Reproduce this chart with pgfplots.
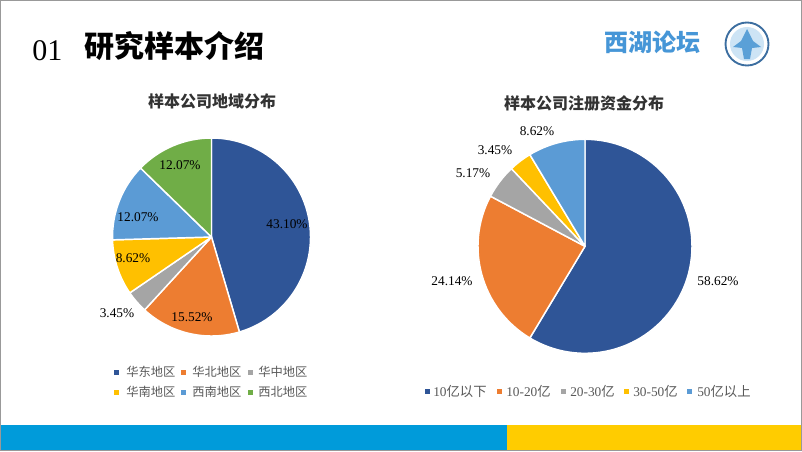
\documentclass[border=0pt]{standalone}
\usepackage{pgfplots}
\pgfplotsset{compat=1.18}
\usepackage{pgfplotstable}
\usepackage{fontspec}
\setmainfont{Liberation Serif}
\newfontfamily\cjk{Noto Sans CJK SC}

\definecolor{cA}{HTML}{2F5597}
\definecolor{cB}{HTML}{ED7D31}
\definecolor{cC}{HTML}{A5A5A5}
\definecolor{cD}{HTML}{FFC000}
\definecolor{cE}{HTML}{5B9BD5}
\definecolor{cF}{HTML}{70AD47}
\definecolor{txt}{HTML}{404040}
\definecolor{legtxt}{HTML}{595959}
\definecolor{barblue}{RGB}{0,155,218}
\definecolor{baryellow}{RGB}{255,204,0}
\definecolor{logoblue}{RGB}{70,150,215}

\pgfplotstableread{
value col
43.10 cA
15.52 cB
3.45  cC
8.62  cD
12.07 cE
12.07 cF
}\regiondata

\pgfplotstableread{
value col
58.62 cA
24.14 cB
5.17  cC
3.45  cD
8.62  cE
}\capitaldata

\newcommand\drawpie[2]{%
  \pgfplotstablegetrowsof{#1}\pgfmathtruncatemacro\nrows{\pgfplotsretval-1}%
  \def\tot{0}%
  \pgfplotsforeachungrouped \i in {0,...,\nrows}{%
    \pgfplotstablegetelem{\i}{value}\of{#1}\pgfmathsetmacro\tot{\tot+\pgfplotsretval}}%
  \def\cum{0}%
  \pgfplotsforeachungrouped \i in {0,...,\nrows}{%
    \pgfplotstablegetelem{\i}{value}\of{#1}\let\pv\pgfplotsretval
    \pgfplotstablegetelem{\i}{col}\of{#1}\let\pc\pgfplotsretval
    \pgfmathsetmacro\sa{90-(\cum/\tot)*360}%
    \pgfmathsetmacro\cum{\cum+\pv}%
    \pgfmathsetmacro\ea{90-(\cum/\tot)*360}%
    \edef\tmp{\noexpand\fill[fill=\pc, draw=white, line width=1.1pt, line join=round] (axis cs:0,0) -- ++(\sa:#2*0.75pt) arc[start angle=\sa, end angle=\ea, radius=#2*0.75pt] -- cycle;}%
    \tmp
  }%
}

\pgfplotsset{pieaxis/.style={hide axis, x=0.75pt, y=0.75pt, xmin=-120, xmax=120, ymin=-120, ymax=120, disabledatascaling, clip=false, anchor=origin,
  every node/.append style={font=\fontsize{10}{12}\selectfont, text=txt}}}

\begin{document}
\begin{tikzpicture}[x=0.75pt,y=0.75pt]
\useasboundingbox (0,0) rectangle (802,451);
\fill[white] (0,0) rectangle (802,451);
% bottom bars
\fill[barblue] (0,0) rectangle (507,26);
\fill[baryellow] (507,0) rectangle (802,26);
\draw[gray!80, line width=0.75pt] (0.5,0.5) rectangle (801.5,450.5);

% title
\node[anchor=base west, inner sep=0pt, font=\fontsize{22.5}{24}\selectfont] at (32,391) {01};
\node[anchor=base west, inner sep=0pt, font=\fontsize{22.5}{24}\selectfont\cjk\bfseries] at (84,393) {研究样本介绍};

% logo
\node[inner sep=0pt, text=logoblue, font=\fontsize{18}{20}\selectfont\cjk\bfseries] at (652,409) {西湖论坛};
\fill[white] (747,407) circle (22);
\draw[color={rgb,255:red,60;green,110;blue,160}, line width=1.4pt] (747,407) circle (21.5);
\fill[color={rgb,255:red,205;green,228;blue,245}] (747,407) circle (17);
\fill[color={rgb,255:red,90;green,160;blue,215}] (747,422) -- (741,410) -- (733,404) -- (742,403) -- (744,392) -- (750,392) -- (752,403) -- (761,404) -- (753,410) -- cycle;

% pie titles
\node[font=\fontsize{12}{14}\selectfont\cjk\bfseries, text={rgb,255:red,51;green,51;blue,51}] at (212,350) {样本公司地域分布};
\node[font=\fontsize{12}{14}\selectfont\cjk\bfseries, text={rgb,255:red,51;green,51;blue,51}] at (584,348) {样本公司注册资金分布};

% left pie
\begin{axis}[pieaxis, at={(211.5,214)}]
\drawpie{\regiondata}{99}
\node at (axis cs:75.5,13) {43.10\%};
\node at (axis cs:-19.5,-80) {15.52\%};
\node at (axis cs:-94.5,-76) {3.45\%};
\node at (axis cs:-78.5,-21) {8.62\%};
\node at (axis cs:-73.5,20) {12.07\%};
\node at (axis cs:-31.5,72) {12.07\%};
\end{axis}

% right pie
\begin{axis}[pieaxis, at={(585,204.7)}]
\drawpie{\capitaldata}{107}
\node at (axis cs:133,-34.7) {58.62\%};
\node at (axis cs:-133,-34.7) {24.14\%};
\node at (axis cs:-112,73.3) {5.17\%};
\node at (axis cs:-90,96.3) {3.45\%};
\node at (axis cs:-48,115.3) {8.62\%};
\end{axis}

% left legend
\begin{scope}[every node/.style={anchor=west, inner sep=0pt, text=legtxt, font=\fontsize{9.2}{11}\selectfont\cjk}]
\fill[cA] (114,76.5) rectangle (119,81.5); \node at (126,79) {华东地区};
\fill[cB] (181,76.5) rectangle (186,81.5); \node at (192,79) {华北地区};
\fill[cC] (248,76.5) rectangle (253,81.5); \node at (258,79) {华中地区};
\fill[cD] (114,56.5) rectangle (119,61.5); \node at (126,59) {华南地区};
\fill[cE] (181,56.5) rectangle (186,61.5); \node at (192,59) {西南地区};
\fill[cF] (248,56.5) rectangle (253,61.5); \node at (258,59) {西北地区};
\end{scope}

% right legend
\begin{scope}[every node/.style={anchor=west, inner sep=0pt, text=legtxt, font=\fontsize{10}{12}\selectfont}]
\fill[cA] (424.5,57.5) rectangle (429.5,62.5); \node at (433,60) {10{\cjk 亿以下}};
\fill[cB] (496.5,57.5) rectangle (501.5,62.5); \node at (506,60) {10-20{\cjk 亿}};
\fill[cC] (560.5,57.5) rectangle (565.5,62.5); \node at (570,60) {20-30{\cjk 亿}};
\fill[cD] (623.5,57.5) rectangle (628.5,62.5); \node at (633,60) {30-50{\cjk 亿}};
\fill[cE] (686.5,57.5) rectangle (691.5,62.5); \node at (697,60) {50{\cjk 亿以上}};
\end{scope}
\end{tikzpicture}
\end{document}
